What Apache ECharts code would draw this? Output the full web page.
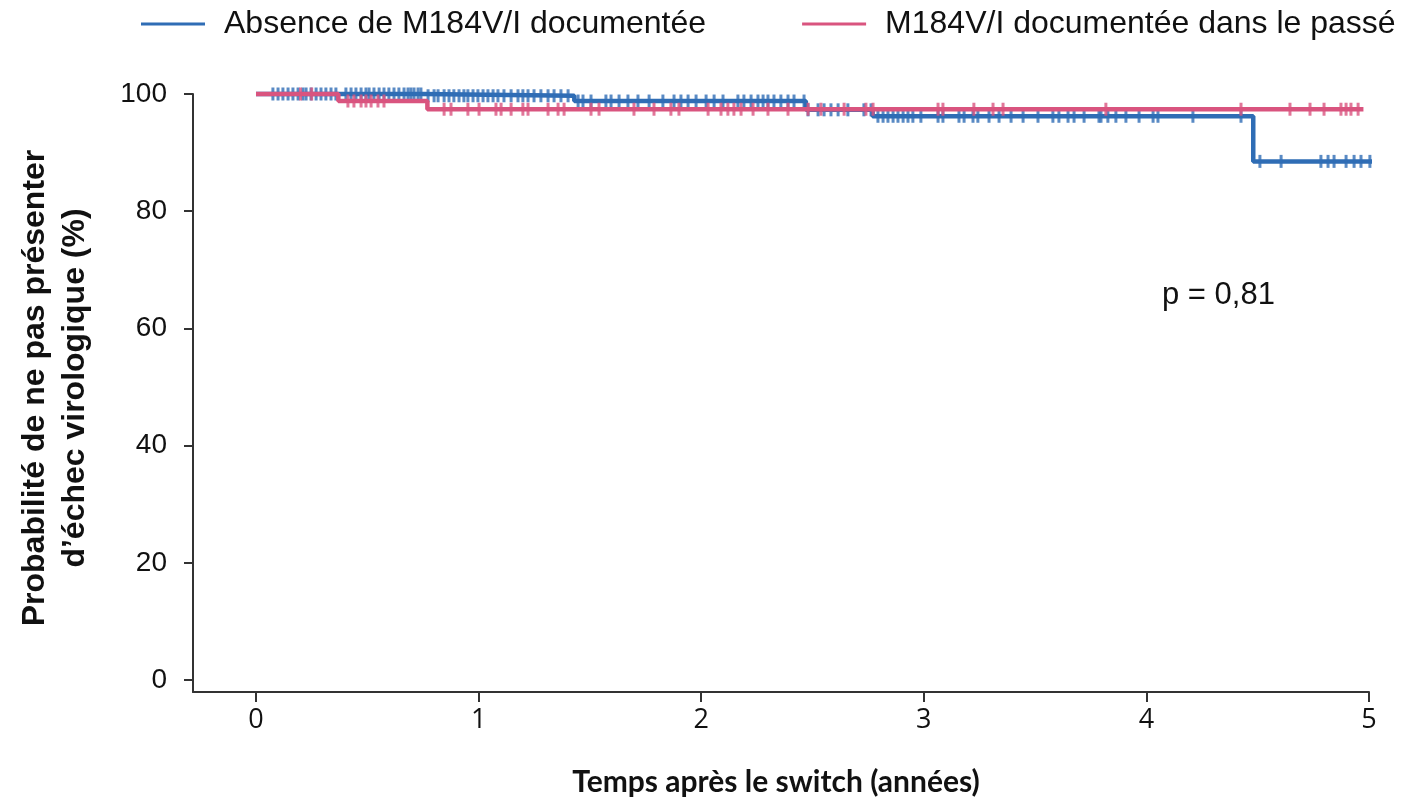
<!DOCTYPE html>
<html><head><meta charset="utf-8">
<script src="https://cdn.jsdelivr.net/npm/echarts/dist/echarts.min.js"></script>
<style>html,body{margin:0;padding:0;background:#fff}#c{width:1409px;height:798px}</style>
</head><body><div id="c"></div>
<script>
// Kaplan-Meier step points [time (years), survival %]
const blueName = 'Absence de M184V/I documentée';
const pinkName = 'M184V/I documentée dans le passé';
const blueSteps = [[0,100],[0.75,99.7],[1.43,98.8],[2.47,97.3],[2.77,96.2],[4.48,88.5],[5.03,88.5]];
const pinkSteps = [[0,100],[0.37,98.8],[0.77,97.4],[4.975,97.4]];
const blueCensor = [0.076,0.099,0.121,0.144,0.166,0.189,0.211,0.225,0.247,0.270,0.292,0.314,0.337,0.359,0.404,0.427,0.449,0.472,0.494,0.508,0.530,0.553,0.575,0.597,0.620,0.642,0.665,0.683,0.696,0.710,0.728,0.741,0.773,0.800,0.818,0.845,0.867,0.889,0.912,0.934,0.952,0.975,0.997,1.020,1.042,1.065,1.087,1.114,1.146,1.177,1.199,1.222,1.249,1.280,1.312,1.339,1.370,1.402,1.447,1.469,1.505,1.572,1.595,1.631,1.671,1.716,1.766,1.828,1.878,1.909,1.941,1.977,2.022,2.058,2.098,2.165,2.192,2.224,2.255,2.278,2.300,2.327,2.358,2.390,2.417,2.462,2.480,2.525,2.552,2.583,2.615,2.659,2.731,2.763,2.794,2.817,2.839,2.862,2.884,2.907,2.929,2.951,2.987,3.064,3.086,3.158,3.181,3.221,3.243,3.293,3.338,3.392,3.446,3.513,3.580,3.607,3.648,3.675,3.720,3.787,3.796,3.827,3.863,3.908,3.967,4.030,4.052,4.209,4.425,4.510,4.605,4.784,4.816,4.843,4.897,4.933,4.964,5.004];
const pinkCensor = [0.20,0.25,0.413,0.440,0.472,0.494,0.517,0.548,0.575,0.845,0.876,0.952,1.002,1.078,1.101,1.146,1.199,1.222,1.312,1.357,1.384,1.505,1.541,1.698,1.788,1.864,1.900,2.031,2.089,2.120,2.147,2.179,2.233,2.300,2.390,2.480,2.538,2.642,2.740,2.772,3.064,3.086,3.225,3.311,3.356,3.818,4.425,4.645,4.735,4.798,4.874,4.897,4.919,4.951];
const xTicks = [0,1,2,3,4,5];
const yTicks = [0,20,40,60,80,100];
const pValue = 'p = 0,81';

const BLUE = '#2f6db5', PINK = '#d9547f';
function survAt(steps, t){ let v = steps[0][1]; for (const s of steps){ if (s[0] <= t) v = s[1]; } return v; }
const blueCensorPts = blueCensor.map(t => [t, survAt(blueSteps, t)]);
const pinkCensorPts = pinkCensor.map(t => [t, survAt(pinkSteps, t)]);

const chart = echarts.init(document.getElementById('c'));
const axisCol = '#333';
const SANS = '"Liberation Sans", Arial, sans-serif';
chart.setOption({
  animation: false,
  backgroundColor: '#fff',
  legend: {
    left: 136, top: 3, itemWidth: 64, itemHeight: 3, itemGap: 96, icon: 'rect',
    data: [blueName, pinkName],
    textStyle: { fontFamily: SANS, fontSize: 32, color: '#111', padding: [0,0,0,14] }
  },
  grid: { left: 193, right: 40, top: 94, bottom: 106 },
  xAxis: {
    type: 'value', min: -0.283, max: 5,
    axisLine: { onZero: false, lineStyle: { color: axisCol, width: 2 } },
    axisTick: { customValues: xTicks, length: 10, lineStyle: { color: axisCol, width: 2 } },
    axisLabel: { customValues: xTicks, margin: 15, fontFamily: 'Open Sans', fontSize: 27, color: '#111' },
    splitLine: { show: false }
  },
  yAxis: {
    type: 'value', min: -2.05, max: 100,
    axisLine: { show: true, onZero: false, lineStyle: { color: axisCol, width: 2 } },
    axisTick: { show: true, customValues: yTicks, length: 9, lineStyle: { color: axisCol, width: 2 } },
    axisLabel: { customValues: yTicks, margin: 26, fontFamily: SANS, fontSize: 28, color: '#111' },
    splitLine: { show: false }
  },
  series: [
    { name: blueName, type: 'line', step: 'end', data: blueSteps, showSymbol: false, clip: false, z: 2,
      color: BLUE, lineStyle: { color: BLUE, width: 4.5 } },
    { name: 'bc', type: 'scatter', data: blueCensorPts, symbol: 'rect', symbolSize: [3, 13], clip: false, z: 3,
      itemStyle: { color: BLUE } },
    { name: pinkName, type: 'line', step: 'end', data: pinkSteps, showSymbol: false, clip: false, z: 4,
      color: PINK, lineStyle: { color: PINK, width: 4.5 } },
    { name: 'pc', type: 'scatter', data: pinkCensorPts, symbol: 'rect', symbolSize: [3, 13], clip: false, z: 5,
      itemStyle: { color: PINK } }
  ],
  graphic: [
    { type: 'text', left: 1162, top: 280, style: { text: pValue, fontFamily: SANS, fontSize: 31, fill: '#111' } },
    { type: 'text', x: 776, y: 782, style: { text: 'Temps après le switch (années)', fontFamily: 'Lato', fontWeight: 'bold', fontSize: 30, fill: '#111', align: 'center', verticalAlign: 'middle' } },
    { type: 'text', x: 55, y: 388, rotation: Math.PI / 2,
      style: { text: 'Probabilité de ne pas présenter\nd’échec virologique (%)', fontFamily: SANS, fontWeight: 'bold', fontSize: 32, lineHeight: 40, fill: '#111', align: 'center', verticalAlign: 'middle' } }
  ]
});
</script></body></html>
